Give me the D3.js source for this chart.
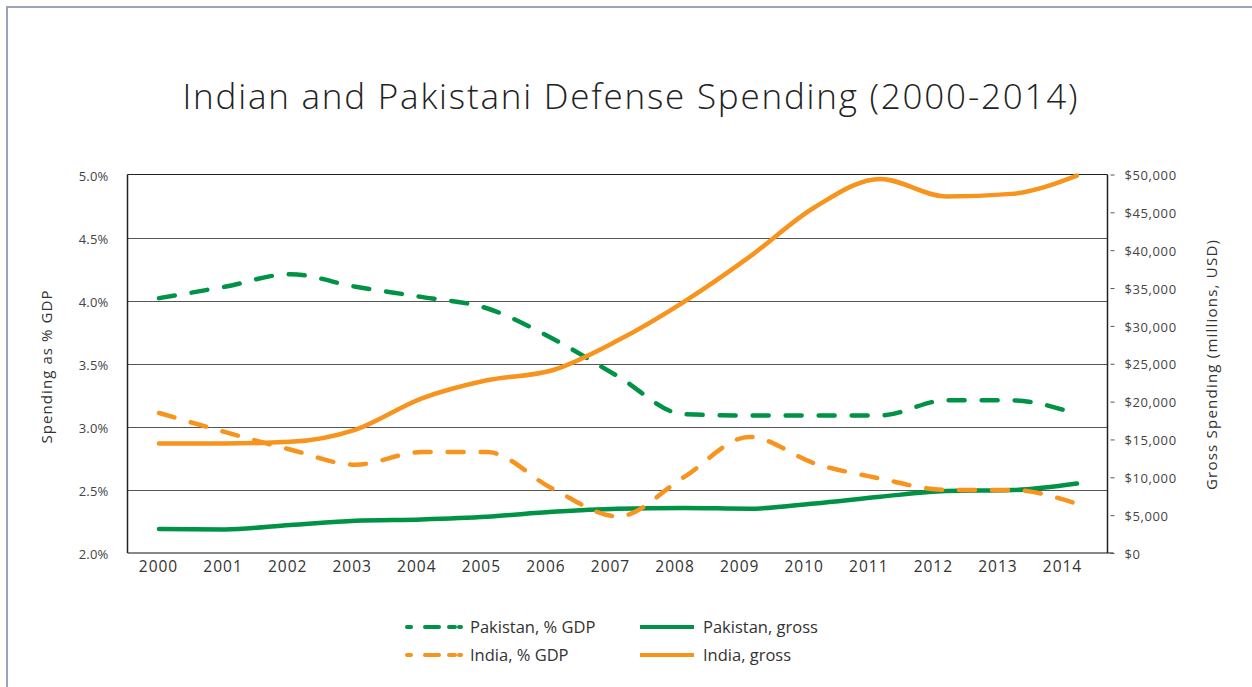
<!DOCTYPE html>
<html>
<head>
<meta charset="utf-8">
<script src="https://cdn.jsdelivr.net/npm/d3@7"></script>
<style>
  html, body { margin: 0; padding: 0; background: #fff; }
  svg { display: block; font-family: "Open Sans", sans-serif; }
</style>
</head>
<body>
<svg id="chart" width="1252" height="687"></svg>
<script>
// ---- data ----
const years = ["2000","2001","2002","2003","2004","2005","2006","2007","2008","2009","2010","2011","2012","2013","2014"];
const pakistanPctGDP = [4.02, 4.11, 4.21, 4.11, 4.03, 3.94, 3.70, 3.40, 3.10, 3.09, 3.09, 3.09, 3.21, 3.21, 3.10];
const indiaPctGDP    = [3.11, 2.96, 2.82, 2.70, 2.80, 2.80, 2.51, 2.29, 2.60, 2.92, 2.71, 2.59, 2.50, 2.50, 2.39];
const pakistanGross  = [3170, 3120, 3690, 4260, 4440, 4790, 5450, 5850, 5940, 5850, 6550, 7430, 8180, 8310, 9190];
const indiaGross     = [14470, 14470, 14680, 16310, 20400, 22820, 24140, 28090, 33150, 39080, 45680, 49420, 47090, 47440, 49860];
const leftTicks  = [2.0, 2.5, 3.0, 3.5, 4.0, 4.5, 5.0];
const rightTicks = [0, 5000, 10000, 15000, 20000, 25000, 30000, 35000, 40000, 45000, 50000];
const title = "Indian and Pakistani Defense Spending (2000-2014)";
const leftTitle = "Spending as % GDP";
const rightTitle = "Gross Spending (millions, USD)";
const legendItems = [
  {label: "Pakistan, % GDP", color: "#009245", dashed: true,  col: 0, row: 0},
  {label: "Pakistan, gross", color: "#009245", dashed: false, col: 1, row: 0},
  {label: "India, % GDP",    color: "#F7941E", dashed: true,  col: 0, row: 1},
  {label: "India, gross",    color: "#F7941E", dashed: false, col: 1, row: 1}
];

const GREEN = "#009245", ORANGE = "#F7941E";
const svg = d3.select("#chart");

// outer frame (top & left edges)
svg.append("path").attr("d", "M7,687 L7,7 L1252,7")
  .attr("fill", "none").attr("stroke", "#9aa3bb").attr("stroke-width", 2);

// plot geometry
const L = 127.5, R = 1107.5, T = 174.5, B = 553;

const yLeft  = d3.scaleLinear().domain([2.0, 5.0]).range([B, T]);
const yRight = d3.scaleLinear().domain([0, 50000]).range([B, T]);
const xData  = d3.scalePoint().domain(years).range([159, 1077]);
const xLabel = d3.scalePoint().domain(years).range([158, 1062]);

// title
svg.append("text").attr("x", 630).attr("y", 109).attr("text-anchor", "middle")
  .attr("font-size", 35).attr("font-weight", 300).attr("fill", "#222")
  .attr("textLength", 895).attr("lengthAdjust", "spacing")
  .text(title);

// gridlines
svg.append("g").selectAll("line").data(leftTicks.filter(d => d > 2.0 && d < 5.0)).join("line")
  .attr("x1", L).attr("x2", R)
  .attr("y1", d => Math.round(yLeft(d)) + 0.5).attr("y2", d => Math.round(yLeft(d)) + 0.5)
  .attr("stroke", "#555").attr("stroke-width", 1.2);

// frame of plot area
svg.append("line").attr("x1", L).attr("x2", R).attr("y1", T).attr("y2", T).attr("stroke", "#222").attr("stroke-width", 1.2);
svg.append("line").attr("x1", L).attr("x2", R + 6).attr("y1", B).attr("y2", B).attr("stroke", "#888").attr("stroke-width", 2);
svg.append("line").attr("x1", L).attr("x2", L).attr("y1", T).attr("y2", B).attr("stroke", "#222").attr("stroke-width", 1.5);
svg.append("line").attr("x1", R).attr("x2", R).attr("y1", T).attr("y2", B).attr("stroke", "#222").attr("stroke-width", 1.5);

// left axis
const leftAxis = d3.axisLeft(yLeft).tickValues(leftTicks).tickSize(0).tickPadding(19)
  .tickFormat(d => d3.format(".1f")(d) + "%");
const gL = svg.append("g").attr("transform", `translate(${L},0)`).call(leftAxis);
gL.select(".domain").remove();
gL.selectAll("text").attr("font-size", 13).attr("fill", "#444").attr("font-family", "Open Sans")
  .attr("dy", "0.45em").attr("letter-spacing", 0.2);

// right axis
const rightAxis = d3.axisRight(yRight).tickValues(rightTicks).tickSize(6).tickPadding(10)
  .tickFormat(d => "$" + d3.format(",")(d));
const gR = svg.append("g").attr("transform", `translate(${R + 1},0)`).call(rightAxis);
gR.select(".domain").remove();
gR.selectAll("line").attr("stroke", "#555").attr("x1", 2).attr("x2", 6);
gR.selectAll("text").attr("font-size", 13).attr("fill", "#444").attr("font-family", "Open Sans")
  .attr("dy", "0.4em").attr("letter-spacing", 0.6);

// bottom axis labels
const bottomAxis = d3.axisBottom(xLabel).tickSize(0).tickPadding(8);
const gB = svg.append("g").attr("transform", `translate(0,${B})`).call(bottomAxis);
gB.select(".domain").remove();
gB.selectAll("text").attr("font-size", 15.5).attr("fill", "#333").attr("font-family", "Open Sans")
  .attr("letter-spacing", 1);

// axis titles
svg.append("text").attr("transform", "translate(52,367) rotate(-90)").attr("text-anchor", "middle")
  .attr("font-size", 15).attr("fill", "#333").attr("textLength", 153).attr("lengthAdjust", "spacing").text(leftTitle);
svg.append("text").attr("transform", "translate(1217,365) rotate(-90)").attr("text-anchor", "middle")
  .attr("font-size", 15).attr("fill", "#333").attr("textLength", 250).attr("lengthAdjust", "spacing").text(rightTitle);

// lines
const curve = d3.curveMonotoneX;
const lineLeft  = d3.line().x((d, i) => xData(years[i])).y(d => yLeft(d)).curve(curve);
const lineRight = d3.line().x((d, i) => xData(years[i])).y(d => yRight(d)).curve(curve);

const plot = svg.append("g");
plot.append("path").datum(pakistanGross).attr("d", lineRight).attr("fill", "none")
  .attr("stroke", GREEN).attr("stroke-width", 4.5).attr("stroke-linecap", "round");
plot.append("path").datum(indiaPctGDP).attr("d", lineLeft).attr("fill", "none")
  .attr("stroke", ORANGE).attr("stroke-width", 4.5).attr("stroke-linecap", "round")
  .attr("stroke-dasharray", "16,17");
plot.append("path").datum(pakistanPctGDP).attr("d", lineLeft).attr("fill", "none")
  .attr("stroke", GREEN).attr("stroke-width", 4.5).attr("stroke-linecap", "round")
  .attr("stroke-dasharray", "16,17");
plot.append("path").datum(indiaGross).attr("d", lineRight).attr("fill", "none")
  .attr("stroke", ORANGE).attr("stroke-width", 4.5).attr("stroke-linecap", "round");

// legend
const colX = [405, 638], rowY = [627, 655];
const lg = svg.append("g").selectAll("g").data(legendItems).join("g")
  .attr("transform", d => `translate(${colX[d.col]},${rowY[d.row]})`);
lg.append("line").attr("x1", 2).attr("x2", 56).attr("y1", 0).attr("y2", 0)
  .attr("stroke", d => d.color).attr("stroke-width", 4)
  .attr("stroke-linecap", d => d.dashed ? "round" : "butt")
  .attr("stroke-dasharray", d => d.dashed ? "4,14,14,10,6" : null);
lg.append("text").attr("x", 65).attr("y", 0).attr("dy", "0.36em")
  .attr("font-size", 16.5).attr("fill", "#333").text(d => d.label);
</script>
</body>
</html>
